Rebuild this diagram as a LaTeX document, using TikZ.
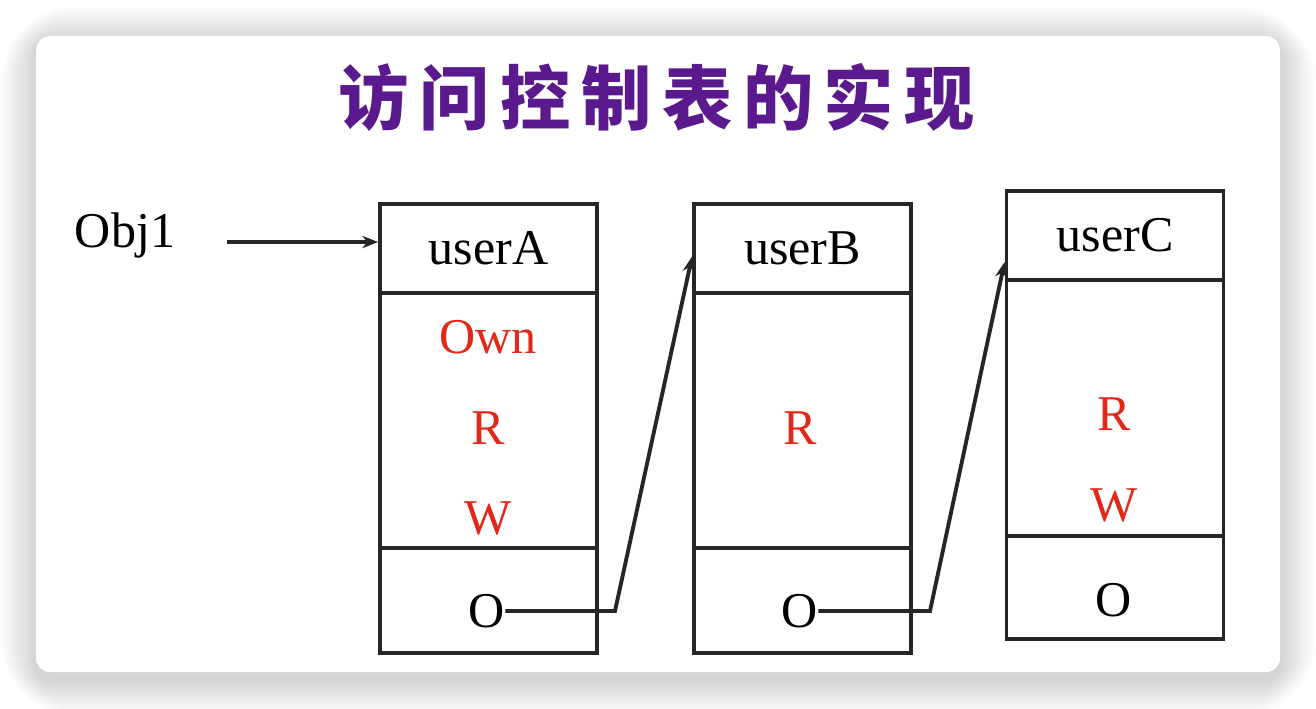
\documentclass[tikz,border=0pt]{standalone}
\usepackage{fontspec}
\usetikzlibrary{arrows.meta}
\setmainfont{Liberation Serif}
\newfontfamily\cjk{Noto Sans CJK SC}[LetterSpace=15]
\definecolor{titlepurple}{RGB}{90,25,140}
\definecolor{permred}{RGB}{225,40,25}
\definecolor{linegray}{RGB}{38,38,38}
\tikzset{
  cell/.style={draw=linegray,line width=2.2pt,minimum width=4.34cm,inner sep=0pt},
  perm/.style={text=permred,inner sep=0pt},
  link/.style={draw=linegray,line width=2.2pt}
}
\begin{document}
\begin{tikzpicture}[>={Stealth[length=9pt,width=7pt]},x=0.02cm,y=-0.02cm,font=\fontsize{28.5pt}{30pt}\selectfont]
  % page and card
  \useasboundingbox (0,0) rectangle (1316,708);
  \fill[white] (0,0) rectangle (1316,708);
  \foreach \i in {1,...,14}
    \fill[black,opacity=0.013,rounded corners=8+2.5*\i] (36-2.5*\i,42-2.5*\i) rectangle (1280+2.5*\i,680+2.5*\i);
  \fill[white,rounded corners=8] (36,36) rectangle (1280,672);
  % title
  \node[text=titlepurple,font=\cjk\bfseries\fontsize{40pt}{42pt}\selectfont] (title) at (657,97) {访问控制表的实现};
  % object
  \node (obj) at (125,235) {Obj1};
  \coordinate (s) at (227,242);
  % entry for userA
  \node[cell,minimum height=1.78cm] (hA) at (488.5,248.5) {userA};
  \node[cell,minimum height=5.1cm] (mA) at (488.5,420.5) {};
  \node[cell,minimum height=2.1cm] (bA) at (488.5,600.5) {};
  \node[perm] (ownA) at (488,337) {Own};
  \node[perm] (rA) at (488,428) {R};
  \node[perm] (wA) at (488,518) {W};
  \node[inner sep=0pt] (oA) at (487,611) {O};
  % entry for userB
  \node[cell,minimum height=1.78cm] (hB) at (802.5,248.5) {userB};
  \node[cell,minimum height=5.1cm] (mB) at (802.5,420.5) {};
  \node[cell,minimum height=2.1cm] (bB) at (802.5,600.5) {};
  \node[perm] (rB) at (800,428) {R};
  \node[inner sep=0pt] (oB) at (800,611) {O};
  % entry for userC
  \node[cell,minimum height=1.78cm] (hC) at (1115,235.5) {userC};
  \node[cell,minimum height=5.12cm] (mC) at (1115,408) {};
  \node[cell,minimum height=2.06cm] (bC) at (1115,587.5) {};
  \node[perm] (rC) at (1114,414) {R};
  \node[perm] (wC) at (1114,505) {W};
  \node[inner sep=0pt] (oC) at (1114,600) {O};
  % links
  \coordinate (kA) at (615,611);
  \coordinate (kB) at (930,611);
  \draw[link,->] (s) -- ([yshift=0.13cm]hA.west);
  \draw[link,->] (oA.east) -- (kA) -- ([yshift=-0.16cm]hB.west);
  \draw[link,->] (oB.east) -- (kB) -- ([yshift=-0.53cm]hC.west);
\end{tikzpicture}
\end{document}
